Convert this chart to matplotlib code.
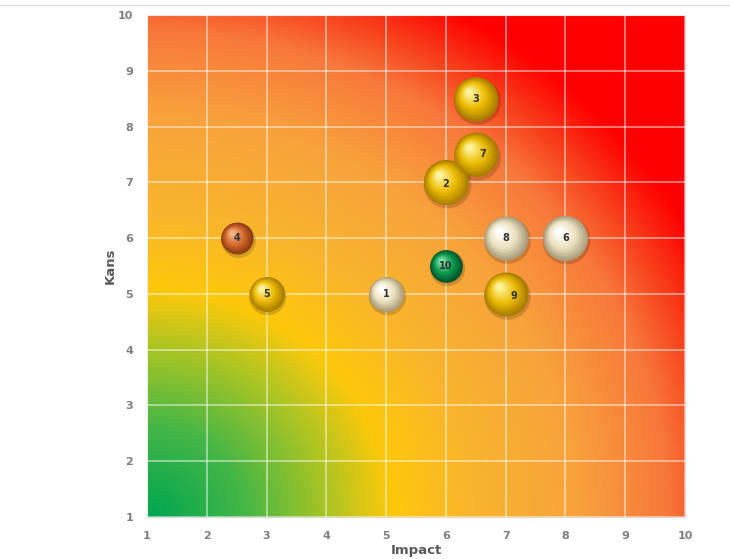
import numpy as np
import matplotlib

matplotlib.use("Agg")
import matplotlib.pyplot as plt
from matplotlib import transforms
from matplotlib.colors import LinearSegmentedColormap, to_rgb
from matplotlib.lines import Line2D

# risico-data: impact (x), kans (y), bubbelgrootte en kleurgroep
labels = ["1", "2", "3", "4", "5", "6", "7", "8", "9", "10"]
impact = [5, 6, 6.5, 2.5, 3, 8, 6.5, 7, 7, 6]
kans = [5, 7, 8.5, 6, 5, 6, 7.5, 6, 5, 5.5]
sizes = [2.5, 4.2, 4.0, 2.1, 2.5, 4.2, 4.0, 4.0, 4.0, 2.2]
groups = ["cream", "gold", "gold", "orange", "gold", "cream", "gold", "cream", "gold", "green"]
ticks = list(range(1, 11))

# kleuren van de bollen: (rand, midden, glans)
palette = {
    "gold": ("#a87c00", "#ebba00", "#fff4a0"),
    "cream": ("#a89c7c", "#ece2bf", "#ffffff"),
    "orange": ("#8a3a10", "#d2692c", "#f6b48a"),
    "green": ("#00502a", "#0b9a4c", "#7ee0a8"),
}
# verschuiving van enkele nummers binnen de bol (punten)
label_dx = {"7": 5, "9": 6}
label_dy = {"9": -1.5, "2": -1}

fig = plt.figure(figsize=(7.3, 5.59), dpi=100)
ax = fig.add_axes([0.2014, 0.0751, 0.737, 0.8981])

# achtergrond: radiale kleurverloop vanuit linksonder
rmax = 1.42
stops = [(0.0, "#00a651"), (0.18, "#46b646"), (0.33, "#a8c424"), (0.45, "#fdc80a"),
         (0.6, "#f9b52c"), (0.8, "#f7a23c"), (0.97, "#f7773a"), (1.06, "#f8401c"),
         (1.16, "#ff0000"), (1.42, "#ff0000")]
bg = LinearSegmentedColormap.from_list("risk", [(p / rmax, c) for p, c in stops])
g = np.linspace(0, 1, 400)
u, v = np.meshgrid(g, g)
r = np.sqrt(u ** 2 + v ** 2)
ax.imshow(r, cmap=bg, vmin=0, vmax=rmax, origin="lower", extent=[1, 10, 1, 10],
          aspect="auto", interpolation="bilinear", zorder=0)

ax.set_xlim(1, 10)
ax.set_ylim(1, 10)
ax.set_xticks(ticks)
ax.set_yticks(ticks)
ax.grid(color="white", alpha=0.5, lw=1.3, zorder=1)
ax.set_axisbelow(False)
for s in ax.spines.values():
    s.set_color("#d9d9d9")
ax.tick_params(length=0, pad=10, labelsize=8, labelcolor="#7f7f7f")
for t in ax.get_xticklabels() + ax.get_yticklabels():
    t.set_fontweight("bold")
ax.set_xlabel("Impact", fontsize=9.5, fontweight="bold", color="#595959")
ax.set_ylabel("Kans", fontsize=9.5, fontweight="bold", color="#595959")
ax.xaxis.set_label_coords(0.5, -0.054)
ax.yaxis.set_label_coords(-0.056, 0.5)


def mix(a, b, t):
    a, b = np.array(to_rgb(a)), np.array(to_rgb(b))
    return tuple(a + (b - a) * t)


n_layers = 22
for x, y, sz, grp, lab in zip(impact, kans, sizes, groups, labels):
    edge, mid, hi = palette[grp]
    R = 11 * np.sqrt(sz) * 0.72  # straal in punten
    # schaduw
    tr = transforms.offset_copy(ax.transData, fig, x=0.6, y=-1.5, units="points")
    ax.scatter([x], [y], s=(2 * R + 2) ** 2, color="black", alpha=0.16, lw=0,
               transform=tr, zorder=3)
    for k in range(n_layers):
        t = k / (n_layers - 1)
        rad = R * (1 - 0.88 * t)
        tr = transforms.offset_copy(ax.transData, fig, x=-0.32 * R * t,
                                    y=0.34 * R * t, units="points")
        c = mix(edge, mid, t / 0.45) if t < 0.45 else mix(mid, hi, (t - 0.45) / 0.55)
        ax.scatter([x], [y], s=(2 * rad) ** 2, color=c, lw=0, transform=tr, zorder=4)
    tr = transforms.offset_copy(ax.transData, fig, x=label_dx.get(lab, 0),
                                y=label_dy.get(lab, 0), units="points")
    ax.text(x, y, lab, ha="center", va="center", fontsize=7, fontweight="bold",
            color="#333333", transform=tr, zorder=6)

fig.add_artist(Line2D([0, 1], [0.991, 0.991], color="#dcdcdc", lw=1, transform=fig.transFigure))

fig.savefig("out.png", dpi=100)
